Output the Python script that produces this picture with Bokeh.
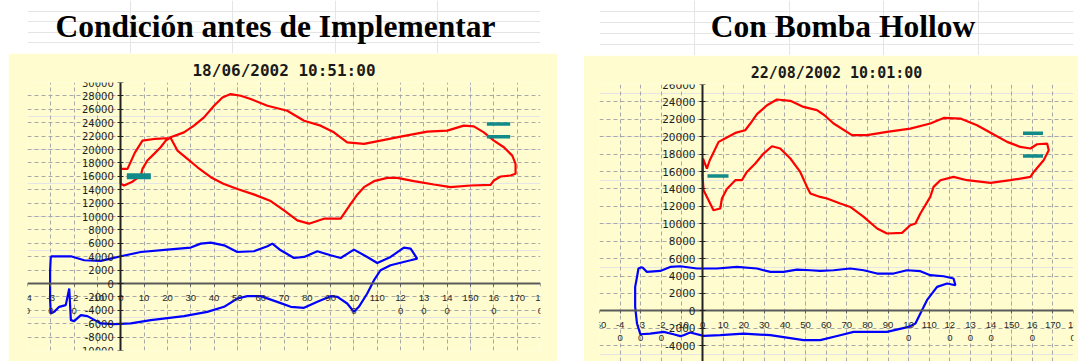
from bokeh.plotting import figure
from bokeh.models import Range1d, LinearAxis, FixedTicker, Grid, Label, Spacer
from bokeh.layouts import row, column
from bokeh.embed import file_html
from bokeh.resources import INLINE

# ---------------- data ----------------
heading_left = "Condición antes de Implementar"
heading_right = "Con Bomba Hollow"
title_left = "18/06/2002 10:51:00"
title_right = "22/08/2002 10:01:00"

left_x_ticks = [-40, -30, -20, -10, 0, 10, 20, 30, 40, 50, 60, 70, 80, 90, 100, 110, 120, 130, 140, 150, 160, 170, 180]
left_x_labels = ["-4\n0", "-3\n0", "-2\n0", "-10", "0", "10", "20", "30", "40", "50", "60", "70", "80", "90",
                 "10\n0", "110", "12\n0", "13\n0", "14\n0", "150", "16\n0", "170", "18\n0"]
left_y_ticks = [-10000, -8000, -6000, -4000, -2000, 0, 2000, 4000, 6000, 8000, 10000, 12000, 14000, 16000,
                18000, 20000, 22000, 24000, 26000, 28000, 30000]
left_y_labels = ["-10000", "-8000", "-6000", "-4000", "-2000", "0", "2000", "4000", "6000", "8000", "10000",
                 "12000", "14000", "16000", "18000", "20000", "22000", "24000", "26000", "28000", "30000"]

right_x_ticks = [-50, -40, -30, -20, -10, 0, 10, 20, 30, 40, 50, 60, 70, 80, 90, 100, 110, 120, 130, 140, 150, 160, 170, 180]
right_x_labels = ["-50", "-4\n0", "-3\n0", "-2\n0", "-10", "0", "10", "20", "30", "40", "50", "60", "70", "80", "90",
                  "10\n0", "110", "12\n0", "13\n0", "14\n0", "150", "16\n0", "170", "18\n0"]
right_y_ticks = [-6000, -4000, -2000, 0, 2000, 4000, 6000, 8000, 10000, 12000, 14000, 16000, 18000, 20000,
                 22000, 24000, 26000]
right_y_labels = ["-6000", "-4000", "-2000", "0", "2000", "4000", "6000", "8000", "10000", "12000", "14000",
                  "16000", "18000", "20000", "22000", "24000", "26000"]

# surface card (red), left
left_red_x = [0, 0, 1.4, 5, 8.6, 9.3, 11.4, 14.3, 17.1, 19.3, 21.4, 27.1, 31.4, 35.7, 40, 43.6, 47.1, 51.4, 55.7,
              62.9, 71.4, 78.6, 85.7, 91.4, 97.1, 104.3, 111.4, 120, 131.4, 140, 147.1, 151.4, 155.7, 160, 164.3,
              167.9, 169.3, 169.3, 167.1, 162.9, 160, 158.6, 150, 141.4, 134.3, 125.7, 118.6, 114.3, 108.6, 104.3,
              101.5, 98.6, 94.3, 87.1, 80.7, 75.7, 70, 64.3, 57, 50, 44, 38.6, 32.9, 28.6, 24.3, 21.4, 15, 9.3,
              6, 2.9, 0, 0]
left_red_y = [17750, 14880, 14630, 15200, 16120, 17100, 18350, 19350, 20330, 21320, 21820, 22560, 23560, 24790,
              26530, 27770, 28270, 28020, 27530, 26530, 25790, 24300, 23560, 22560, 21070, 20830, 21320, 21920,
              22660, 22810, 23560, 23450, 22560, 21320, 20330, 19090, 17860, 16370, 16120, 15970, 15370, 14730,
              14630, 14380, 14780, 15270, 15770, 15770, 15270, 14380, 13300, 11900, 9670, 9670, 8930, 9420, 10910,
              12300, 13300, 14100, 14900, 15860, 17350, 18600, 19840, 21720, 21600, 21320, 19500, 17110, 17110, 17750]
# downhole card (blue), left
left_blue_x = [-30, -21.4, -15.7, -8.6, -4.3, 0, 8.6, 20, 30, 34.3, 38.6, 44.3, 50, 57.1, 62.9, 65, 68.6, 74.3,
               78.6, 84.3, 90, 94.3, 100, 105.7, 110, 115.7, 121.4, 124.3, 127.1, 124.3, 115.7, 111.4, 108.6, 105.7,
               102.1, 100, 97.1, 92.9, 90, 84.3, 78.6, 72.9, 67.1, 60, 54.3, 50, 44.3, 37.1, 27.1, 12.9, 4.3, -2.9,
               -8.6, -14.3, -17.1, -20, -21.4, -22.1, -23.6, -26.4, -28.6, -30, -30.3, -30.3, -30]
left_blue_y = [4060, 4060, 3470, 3370, 3720, 4060, 4700, 5060, 5360, 5950, 6100, 5700, 4700, 4810, 5550, 5950,
               4960, 3810, 3960, 4810, 4210, 3810, 5060, 3960, 3070, 3960, 5360, 5210, 3720, 3470, 2720, 1980, 490,
               -1490, -3480, -4230, -2980, -1990, -1890, -2740, -3630, -3480, -2740, -1890, -1890, -2240, -3480,
               -4230, -4870, -5460, -5950, -6060, -5950, -4870, -4720, -5610, -5460, -740, -3230, -3480, -4230,
               -4470, -2490, 1980, 4060]
left_mark_x0 = [2.6, 157, 157]
left_mark_x1 = [12.9, 167, 167]
left_mark_y = [16000, 23800, 21900]
left_mark_w = [6, 3.5, 3.5]

# surface card (red), right
right_red_x = [0.2, 2.1, 3.5, 7.8, 11.8, 15.9, 20.7, 23.2, 26.4, 31.3, 36.1, 42.6, 49, 55.5, 59, 63.6, 72.5, 79.8,
               89.5, 100.8, 110.5, 117, 125.1, 133.2, 141.3, 147.8, 154.2, 159.1, 162.3, 167.2, 168, 165.5, 160.7,
               159.1, 149.4, 139.7, 128.3, 121.8, 115.4, 112.1, 110.5, 105.7, 103.3, 100.8, 96.8, 89.5, 84.7, 78.2,
               71.7, 66.8, 60.4, 57.1, 52.3, 50.7, 47.4, 42.6, 37.7, 33.7, 29.6, 25.6, 21.5, 19.1, 15.9, 11.8, 9.4,
               8.6, 5.3, 3.7, 0.5, 0, 0.2]
right_red_y = [17500, 16350, 17300, 19410, 19910, 20440, 20750, 21520, 22590, 23620, 24280, 24120, 23430, 23050,
               22500, 21520, 20180, 20180, 20560, 20940, 21520, 22160, 22090, 21330, 20260, 19410, 18830, 18650,
               19140, 19220, 18450, 17310, 15960, 15390, 15010, 14700, 15010, 15390, 15010, 14240, 13090, 11180,
               10040, 9840, 8960, 8890, 9460, 10800, 11940, 12330, 12910, 13090, 13480, 14240, 15960, 17500, 18650,
               18910, 18070, 16930, 15960, 15010, 15010, 14000, 12910, 11760, 11560, 12330, 13860, 15500, 17500]
# downhole card (blue), right
right_blue_x = [-29.4, -27, -20.5, -15.7, -10.8, -2.7, 7, 16.7, 26.4, 32.9, 39.3, 45.8, 52.3, 57.1, 63.6, 71.7,
                78.2, 84.7, 92.7, 99.2, 105.7, 110.5, 117, 121.8, 122.7, 118.7, 113.8, 108.9, 105.7, 103.3, 100,
                89.5, 81.4, 73.3, 66.8, 57.1, 49, 32.9, 19.9, 8.6, 0.5, -6, -9.2, -10.8, -14.1, -18.9, -25.4, -30.2,
                -31.8, -32.7, -32.7, -31.8, -31.1, -29.4]
right_blue_y = [5050, 4480, 4590, 5050, 5130, 4870, 4870, 5050, 4870, 4480, 4480, 4750, 4670, 4590, 4670, 4870,
                4670, 4290, 4290, 4670, 4560, 4100, 3980, 3720, 2950, 3150, 2760, 1230, -300, -1450, -1840, -2410,
                -2410, -2410, -2790, -3360, -3360, -2790, -2600, -2790, -2870, -2480, -2790, -2900, -2680, -2410,
                -2600, -2680, -1450, 460, 2760, 3900, 4870, 5050]
right_mark_x0 = [2.4, 155.5, 155.5]
right_mark_x1 = [12.6, 165.2, 165.2]
right_mark_y = [15500, 20400, 17800]
right_mark_w = [3.5, 3.5, 3.5]

# ---------------- style ----------------
YELLOW = "#FFFDCF"
GRID = "#A8A8A8"
RED = "#FF0000"
BLUE = "#0000FF"
TEAL = "#138A8A"


def heading(text, width, height, borders, cx, base):
    h = figure(width=width, height=height, x_range=Range1d(0, 1), y_range=Range1d(0, 1),
               output_backend="svg", toolbar_location=None, x_axis_location=None, y_axis_location=None,
               min_border_left=borders[0], min_border_right=borders[1], min_border_top=0, min_border_bottom=0)
    h.outline_line_color = None
    h.background_fill_color = "white"
    h.border_fill_color = "white"
    h.add_layout(Label(x=cx, y=base, x_units="screen", y_units="screen", text=text,
                       text_align="center", text_baseline="alphabetic", text_font="Liberation Serif",
                       text_font_style="bold", text_font_size="31.5px", text_color="black"))
    return h


def chart(title, width, height, xr, yr, borders, x_ticks, x_labels, y_ticks, y_labels,
          rx, ry, bx, by, mx0, mx1, my, mw, title_size, ylab_size):
    p = figure(width=width, height=height, x_range=Range1d(*xr), y_range=Range1d(*yr),
               output_backend="svg", toolbar_location=None, x_axis_location=None, y_axis_location=None,
               min_border_left=borders[0], min_border_right=borders[1],
               min_border_top=borders[2], min_border_bottom=borders[3], title=title)
    p.background_fill_color = YELLOW
    p.border_fill_color = YELLOW
    p.outline_line_color = None
    p.title.align = "center"
    p.title.text_font = "DejaVu Sans Mono"
    p.title.text_font_style = "bold"
    p.title.text_font_size = title_size
    p.title.text_color = "#1A1A1A"
    p.title.standoff = 6

    p.add_layout(Grid(dimension=0, ticker=FixedTicker(ticks=x_ticks), grid_line_color=GRID,
                      grid_line_dash="4 3", grid_line_width=1))
    p.add_layout(Grid(dimension=1, ticker=FixedTicker(ticks=y_ticks), grid_line_color=GRID,
                      grid_line_dash="4 3", grid_line_width=1))

    xa = LinearAxis(fixed_location=0, ticker=FixedTicker(ticks=x_ticks),
                    major_label_overrides=dict(zip(x_ticks, x_labels)))
    xa.axis_line_color = "#5A5A5A"
    xa.axis_line_width = 2
    xa.major_tick_in = 0
    xa.major_tick_out = 3
    xa.major_tick_line_color = "#5A5A5A"
    xa.minor_tick_line_color = None
    xa.major_label_text_font = "Liberation Sans"
    xa.major_label_text_font_size = "9.5px"
    xa.major_label_text_color = "#2A2A2A"
    xa.major_label_standoff = 5
    p.add_layout(xa, "below")

    ya = LinearAxis(fixed_location=0, ticker=FixedTicker(ticks=y_ticks),
                    major_label_overrides=dict(zip(y_ticks, y_labels)))
    ya.axis_line_color = "#222222"
    ya.axis_line_width = 2
    ya.major_tick_in = 3
    ya.major_tick_out = 3
    ya.major_tick_line_color = "#222222"
    ya.minor_tick_line_color = None
    ya.major_label_text_font = "DejaVu Sans"
    ya.major_label_text_font_size = ylab_size
    ya.major_label_text_color = "#1E1E1E"
    ya.major_label_standoff = 4
    p.add_layout(ya, "left")

    p.line(rx, ry, line_color=RED, line_width=2.2)
    p.line(bx, by, line_color=BLUE, line_width=2.2)
    p.segment(x0=mx0, x1=mx1, y0=my, y1=my, line_color=TEAL, line_width=mw)
    return p


# left panel: x 8..557, heading 0..53, chart 53..361
hl = heading(heading_left, 549, 53, (19, 17), 248, 27.1)
pl = chart(title_left, 549, 308, (-40, 180), (-10000, 30000), (19, 17, 29, 11),
           left_x_ticks, left_x_labels, left_y_ticks, left_y_labels,
           left_red_x, left_red_y, left_blue_x, left_blue_y,
           left_mark_x0, left_mark_x1, left_mark_y, left_mark_w, "16px", "10px")

# right panel: x 583..1078, heading 0..55, chart 55..361
hr = heading(heading_right, 495, 55, (16, 5), 243.5, 29.1)
pr = chart(title_right, 495, 306, (-50, 180), (-5810, 26000), (16, 5, 29, 0),
           right_x_ticks, right_x_labels, right_y_ticks, right_y_labels,
           right_red_x, right_red_y, right_blue_x, right_blue_y,
           right_mark_x0, right_mark_x1, right_mark_y, right_mark_w, "15px", "10.5px")

layout = row(Spacer(width=8, height=361), column(hl, pl), Spacer(width=26, height=361), column(hr, pr))
open("out.html", "w").write(file_html(layout, INLINE))
